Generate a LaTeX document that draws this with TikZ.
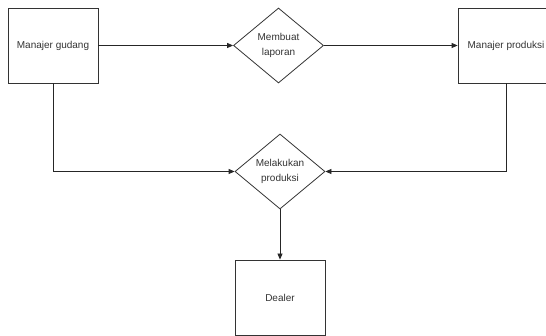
\documentclass[tikz,border=0pt]{standalone}
\usepackage{fontspec}
\setmainfont{Liberation Sans}
\usetikzlibrary{shapes.geometric,arrows.meta}
\tikzset{
  box/.style={draw=black!80,line width=0.8pt,minimum width=90pt,minimum height=75pt,inner sep=0pt,font=\fontsize{10}{14.5}\selectfont,text=black!80},
  decision/.style={diamond,draw=black!80,line width=0.8pt,minimum width=90pt,minimum height=75pt,inner sep=0pt,align=center,font=\fontsize{10}{14.5}\selectfont,text=black!80},
  flow/.style={draw=black!85,line width=0.8pt,-{Triangle[length=6pt,width=5pt]}}
}
\begin{document}
\begin{tikzpicture}[x=1pt,y=-1pt]
        \useasboundingbox (0,0) rectangle (546,336);
        \node[box] (gudang) at (53,45.5) {Manajer gudang};
        \node[decision] (laporan) at (278.5,45.5) {Membuat\\laporan};
        \node[box,minimum width=96pt] (produksi) at (506,45.5) {Manajer produksi};
        \node[decision] (melakukan) at (280,171.5) {Melakukan\\produksi};
        \node[box] (dealer) at (280,297.5) {Dealer};
        \draw[flow] (gudang) -- (laporan);
        \draw[flow] (laporan) -- (produksi);
        \draw[flow] (gudang.south) |- (melakukan.west);
        \draw[flow] (produksi.south) |- (melakukan.east);
        \draw[flow] (melakukan) -- (dealer);
    \end{tikzpicture}
\end{document}
